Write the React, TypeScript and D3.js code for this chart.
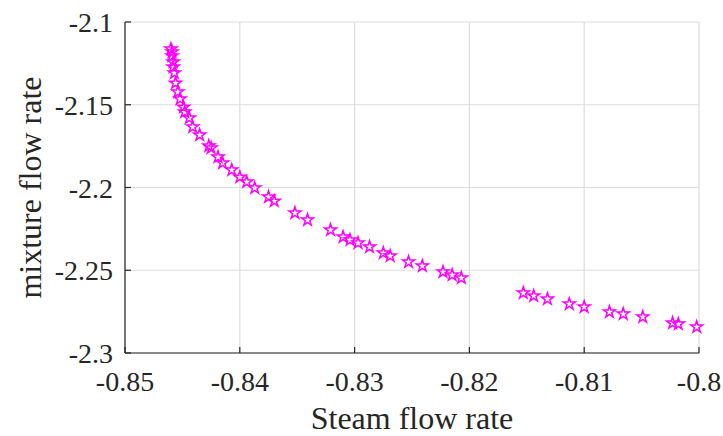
import * as d3 from "d3";

const steamFlow = [
  -0.846, -0.8459, -0.8459, -0.8458, -0.8458, -0.8457, -0.8456, -0.8454, -0.8452, -0.8449,
  -0.8448, -0.8444, -0.8441, -0.8435, -0.8427, -0.8425, -0.8419, -0.8415, -0.8407, -0.84,
  -0.8394, -0.8387, -0.8375, -0.837, -0.8352, -0.8341, -0.8321, -0.831, -0.8304, -0.8297,
  -0.8287, -0.8275, -0.8269, -0.8253, -0.8241, -0.8223, -0.8215, -0.8207, -0.8153, -0.8144,
  -0.8132, -0.8113, -0.81, -0.8078, -0.8066, -0.8049, -0.8023, -0.8018, -0.8002,
];
const mixtureFlow = [
  -2.1163, -2.1181, -2.1205, -2.1242, -2.1272, -2.1308, -2.1369, -2.1423, -2.1465, -2.1514,
  -2.1544, -2.158, -2.1634, -2.1683, -2.1749, -2.1761, -2.1816, -2.1852, -2.1894, -2.1937,
  -2.1967, -2.2003, -2.2057, -2.2082, -2.2154, -2.2196, -2.2257, -2.2299, -2.2317, -2.2335,
  -2.2359, -2.2396, -2.2414, -2.245, -2.2474, -2.251, -2.2529, -2.2547, -2.2637, -2.2655,
  -2.2674, -2.2704, -2.2722, -2.2752, -2.2764, -2.2782, -2.2819, -2.2825, -2.2843,
];
const xTicks = [-0.85, -0.84, -0.83, -0.82, -0.81, -0.8];
const yTicks = [-2.1, -2.15, -2.2, -2.25, -2.3];

const width = 723;
const height = 436;
const margin = { top: 22, right: 24, bottom: 83, left: 125 };
const serif = { fontFamily: "'Liberation Serif', serif" };

export default function App() {
  const x = d3
    .scaleLinear()
    .domain([-0.85, -0.8])
    .range([margin.left, width - margin.right]);
  const y = d3
    .scaleLinear()
    .domain([-2.3, -2.1])
    .range([height - margin.bottom, margin.top]);

  const star = d3.symbol(d3.symbolStar, 44)() ?? "";
  const fmt = (d: number) => String(d);

  const x0 = x.range()[0];
  const x1 = x.range()[1];
  const y0 = y.range()[0];
  const y1 = y.range()[1];

  return (
    <svg
      width={width}
      height={height}
      viewBox={`0 0 ${width} ${height}`}
      style={{ position: "absolute", left: 0, top: 0, background: "#fff" }}
    >
      <rect width={width} height={height} fill="#fff" />
      {/* grid */}
      <g stroke="#dcdcdc" strokeWidth={1.2}>
        {xTicks.map((t) => (
          <line key={`gx${t}`} x1={x(t)} x2={x(t)} y1={y0} y2={y1} />
        ))}
        {yTicks.map((t) => (
          <line key={`gy${t}`} x1={x0} x2={x1} y1={y(t)} y2={y(t)} />
        ))}
      </g>
      {/* axes */}
      <g stroke="#262626" strokeWidth={1.2}>
        <line x1={x0} x2={x1} y1={y0} y2={y0} />
        <line x1={x0} x2={x0} y1={y0} y2={y1} />
        {xTicks.map((t) => (
          <line key={`tx${t}`} x1={x(t)} x2={x(t)} y1={y0} y2={y0 - 6} />
        ))}
        {yTicks.map((t) => (
          <line key={`ty${t}`} x1={x0} x2={x0 + 6} y1={y(t)} y2={y(t)} />
        ))}
      </g>
      {xTicks.map((t) => (
        <text
          key={`lx${t}`}
          x={x(t)}
          y={y0 + 38}
          textAnchor="middle"
          style={{ ...serif, fontSize: 28 }}
          fill="#262626"
        >
          {fmt(t)}
        </text>
      ))}
      {yTicks.map((t) => (
        <text
          key={`ly${t}`}
          x={x0 - 12}
          y={y(t) + 10}
          textAnchor="end"
          style={{ ...serif, fontSize: 28 }}
          fill="#262626"
        >
          {fmt(t)}
        </text>
      ))}
      <text
        x={(x0 + x1) / 2}
        y={429}
        textAnchor="middle"
        style={{ ...serif, fontSize: 32 }}
        fill="#262626"
      >
        Steam flow rate
      </text>
      <text
        transform={`translate(41,${(y0 + y1) / 2}) rotate(-90)`}
        textAnchor="middle"
        style={{ ...serif, fontSize: 32 }}
        fill="#262626"
      >
        mixture flow rate
      </text>
      {/* points */}
      <g fill="none" stroke="#ff00ff" strokeWidth={1.5}>
        {steamFlow.map((s, i) => (
          <path
            key={i}
            d={star}
            transform={`translate(${x(s)},${y(mixtureFlow[i])})`}
          />
        ))}
      </g>
    </svg>
  );
}
